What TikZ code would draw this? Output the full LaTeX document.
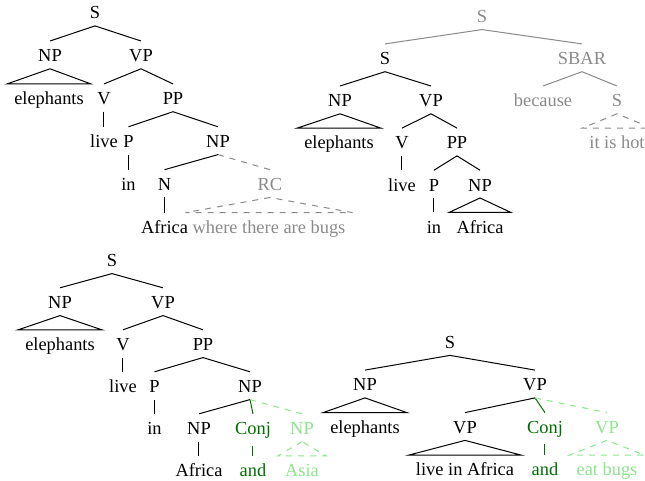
\documentclass[tikz,border=0pt]{standalone}
\usepackage{fontspec}
\setmainfont{Liberation Serif}
\usepackage{tikz}
\usetikzlibrary{positioning}
\definecolor{fadegray}{RGB}{138,138,138}
\definecolor{conjgreen}{RGB}{0,110,0}
\definecolor{addgreen}{RGB}{140,230,140}

\begin{document}
\begin{tikzpicture}[x=0.5pt,y=-0.5pt,line width=0.5pt,
	every node/.style={font=\fontsize{9.2}{11}\selectfont,inner xsep=3.3pt,inner ysep=3.2pt,text height=7pt,text depth=0pt,anchor=base},
	faded/.style={text=fadegray},
	conjtext/.style={text=conjgreen},
	conj/.style={text=conjgreen,text depth=2pt},
	added/.style={text=addgreen},
	fadeline/.style={draw=fadegray},
	conjline/.style={draw=conjgreen},
	addline/.style={draw=addgreen,dashed}]
	\useasboundingbox (0,0) rectangle (645,481);

	% elephants live in Africa where there are bugs
	\node (s1) at (95,19) {S};
	\node (np1) at (50,61.9) {NP};
	\node (vp1) at (141,61.9) {VP};
	\node (el1) at (49,104.8) {elephants};
	\node (v1) at (104,104.8) {V};
	\node (pp1) at (173,104.8) {PP};
	\node (live1) at (104,147.7) {live};
	\node (p1) at (128.5,147.7) {P};
	\node (npb1) at (218,147.7) {NP};
	\node (in1) at (128.5,190.6) {in};
	\node (n1) at (164.5,190.6) {N};
	\node[faded] (rc1) at (270,190.6) {RC};
	\node (af1) at (164.5,233.5) {Africa};
	\node[faded] (bugs1) at (269,233.5) {where there are bugs};

	\draw
	(s1.south) edge (np1.north)
	(s1.south) edge (vp1.north)
	(vp1.south) edge (v1.north)
	(vp1.south) edge (pp1.north)
	(v1.south) edge (live1.north)
	(pp1.south) edge (p1.north)
	(pp1.south) edge (npb1.north)
	(p1.south) edge (in1.north)
	(npb1.south) edge (n1.north)
	(npb1.south) edge [fadeline,dashed] (rc1.north)
	(n1.south) edge (af1.north)
	;
	\draw (np1.south) -- (el1.north west) -- (el1.north east) -- cycle;
	\draw[fadeline,dashed] (rc1.south) -- (bugs1.north west) -- (bugs1.north east) -- cycle;

	% elephants live in Africa because it is hot
	\node[faded] (s2) at (482,22.7) {S};
	\node (sa2) at (385,64.8) {S};
	\node[faded] (sbar2) at (582,64.8) {SBAR};
	\node (np2) at (340,106.9) {NP};
	\node (vp2) at (431,106.9) {VP};
	\node[faded] (bec2) at (543,106.9) {because};
	\node[faded] (sb2) at (617,106.9) {S};
	\node (el2) at (339,149) {elephants};
	\node (v2) at (402,149) {V};
	\node (pp2) at (457,149) {PP};
	\node[faded] (hot2) at (617,149) {it is hot};
	\node (live2) at (402,191.1) {live};
	\node (p2) at (434,191.1) {P};
	\node (npb2) at (480,191.1) {NP};
	\node (in2) at (434,233.2) {in};
	\node (af2) at (480,233.2) {Africa};

	\draw
	(s2.south) edge [fadeline] (sa2.north)
	(s2.south) edge [fadeline] (sbar2.north)
	(sbar2.south) edge [fadeline] (bec2.north)
	(sbar2.south) edge [fadeline] (sb2.north)
	(sa2.south) edge (np2.north)
	(sa2.south) edge (vp2.north)
	(vp2.south) edge (v2.north)
	(vp2.south) edge (pp2.north)
	(v2.south) edge (live2.north)
	(pp2.south) edge (p2.north)
	(pp2.south) edge (npb2.north)
	(p2.south) edge (in2.north)
	;
	\draw (np2.south) -- (el2.north west) -- (el2.north east) -- cycle;
	\draw (npb2.south) -- (af2.north west) -- (af2.north east) -- cycle;
	\draw[fadeline,dashed] (sb2.south) -- (hot2.north west) -- (hot2.north east) -- cycle;

	% elephants live in Africa and Asia
	\node (s3) at (112,266.7) {S};
	\node (np3) at (60,308.7) {NP};
	\node (vp3) at (163,308.7) {VP};
	\node (el3) at (60,350.7) {elephants};
	\node (v3) at (123,350.7) {V};
	\node (pp3) at (203,350.7) {PP};
	\node (live3) at (123,392.7) {live};
	\node (p3) at (154.5,392.7) {P};
	\node (npb3) at (250,392.7) {NP};
	\node (in3) at (154.5,434.7) {in};
	\node (npc3) at (199,434.7) {NP};
	\node[conj] (conj3) at (253,434.7) {Conj};
	\node[added] (npd3) at (302,434.7) {NP};
	\node (af3) at (199,476.7) {Africa};
	\node[conjtext] (and3) at (253,476.7) {and};
	\node[added] (asia3) at (302,476.7) {Asia};

	\draw
	(s3.south) edge (np3.north)
	(s3.south) edge (vp3.north)
	(vp3.south) edge (v3.north)
	(vp3.south) edge (pp3.north)
	(v3.south) edge (live3.north)
	(pp3.south) edge (p3.north)
	(pp3.south) edge (npb3.north)
	(p3.south) edge (in3.north)
	(npb3.south) edge (npc3.north)
	(npb3.south) edge [conjline] (conj3.north)
	(npb3.south) edge [addline] (npd3.north)
	(npc3.south) edge (af3.north)
	(conj3.south) edge [conjline] (and3.north)
	;
	\draw (np3.south) -- (el3.north west) -- (el3.north east) -- cycle;
	\draw[addline] (npd3.south) -- (asia3.north west) -- (asia3.north east) -- cycle;

	% elephants live in Africa and eat bugs
	\node (s4) at (450,348.5) {S};
	\node (np4) at (365,391) {NP};
	\node (vp4) at (535,391) {VP};
	\node (el4) at (365,433.5) {elephants};
	\node (vpb4) at (465,433.5) {VP};
	\node[conj] (conj4) at (545,433.5) {Conj};
	\node[added] (vpc4) at (607,433.5) {VP};
	\node (lia4) at (465,476) {live in Africa};
	\node[conjtext] (and4) at (545,476) {and};
	\node[added] (eat4) at (607,476) {eat bugs};

	\draw
	(s4.south) edge (np4.north)
	(s4.south) edge (vp4.north)
	(vp4.south) edge (vpb4.north)
	(vp4.south) edge [conjline] (conj4.north)
	(vp4.south) edge [addline] (vpc4.north)
	(conj4.south) edge [conjline] (and4.north)
	;
	\draw (np4.south) -- (el4.north west) -- (el4.north east) -- cycle;
	\draw (vpb4.south) -- (lia4.north west) -- (lia4.north east) -- cycle;
	\draw[addline] (vpc4.south) -- (eat4.north west) -- (eat4.north east) -- cycle;
\end{tikzpicture}
\end{document}
